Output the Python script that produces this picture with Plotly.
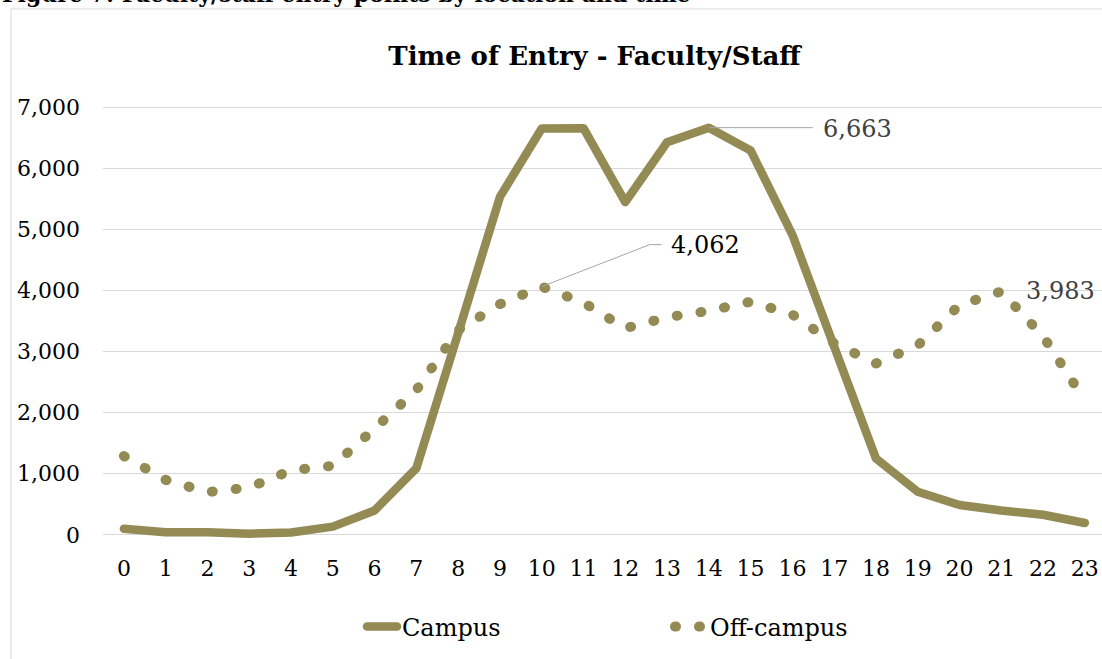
import plotly.graph_objects as go

hours = list(range(24))
campus = [100, 45, 45, 20, 40, 135, 400, 1090, 3300, 5530, 6650, 6655,
          5445, 6425, 6663, 6290, 4910, 3050, 1250, 705, 490, 400, 330, 195]
off_campus = [1290, 900, 700, 775, 1055, 1130, 1740, 2370, 3350, 3775, 4062, 3800,
              3380, 3560, 3665, 3815, 3605, 3135, 2805, 3100, 3760, 3983, 3250, 2200]
ytick_vals = [0, 1000, 2000, 3000, 4000, 5000, 6000, 7000]

olive = "#948A54"
serif = "DejaVu Serif"

fig = go.Figure()
fig.add_trace(go.Scatter(x=hours, y=campus, name="Campus", mode="lines",
                         line=dict(color=olive, width=8.5)))
fig.add_trace(go.Scatter(x=hours, y=off_campus, name="Off-campus", mode="lines",
                         line=dict(color=olive, width=10, dash="1px,23px")))

# data labels with leader lines
fig.add_annotation(x=14, y=campus[14], text="{:,}".format(campus[14]), showarrow=False,
                   xanchor="left", yanchor="middle", xshift=112, yshift=-1,
                   font=dict(family=serif, size=24, color="#404040"))
fig.add_shape(type="path", xref="x", yref="y", xsizemode="pixel", ysizemode="pixel",
              xanchor=14, yanchor=campus[14], path="M 0,0 L 104,0",
              line=dict(color="#A6A6A6", width=1))
fig.add_annotation(x=10, y=off_campus[10], text="{:,}".format(off_campus[10]), showarrow=False,
                   xanchor="left", yanchor="middle", xshift=127, yshift=42,
                   font=dict(family=serif, size=24, color="#000000"))
fig.add_shape(type="path", xref="x", yref="y", xsizemode="pixel", ysizemode="pixel",
              xanchor=10, yanchor=off_campus[10], path="M 0,0 L 108,42 L 120,42",
              line=dict(color="#A6A6A6", width=1))
fig.add_annotation(x=21, y=off_campus[21], text="{:,}".format(off_campus[21]), showarrow=False,
                   xanchor="left", yanchor="middle", xshift=23, yshift=0,
                   font=dict(family=serif, size=24, color="#404040"))

# chart frame and clipped figure caption
fig.add_shape(type="rect", xref="paper", yref="paper", x0=-0.0921, x1=1.1, y0=1.2175, y1=-0.4,
              line=dict(color="#D9D9D9", width=1), layer="below")
fig.add_annotation(xref="paper", yref="paper", x=-103 / 999, y=1.2174, xanchor="left", yanchor="bottom",
                   text="<b>Figure 7: Faculty/staff entry points by location and time</b>", showarrow=False,
                   font=dict(family=serif, size=22, color="#000000"))

fig.update_layout(
    width=1102, height=659,
    margin=dict(l=103, r=0, t=104, b=118),
    paper_bgcolor="white", plot_bgcolor="white",
    title=dict(text="<b>Time of Entry - Faculty/Staff</b>", xref="container", x=594.5 / 1102,
               xanchor="center", yref="container", y=1 - 56 / 659, yanchor="middle",
               font=dict(family=serif, size=26, color="#000000")),
    legend=dict(orientation="h", xref="container", x=362 / 1102, xanchor="left",
                yref="container", y=1 - 627 / 659, yanchor="middle",
                entrywidth=263, entrywidthmode="pixels",
                font=dict(family=serif, size=24, color="#000000"),
                bgcolor="rgba(0,0,0,0)"),
    showlegend=True,
)
fig.update_xaxes(range=[-0.5, 23.41], tickvals=hours, showgrid=False, zeroline=False,
                 showline=False, ticks="", ticklabelstandoff=12,
                 tickfont=dict(family=serif, size=22, color="#000000"))
fig.update_yaxes(range=[-100, 7050], tickvals=ytick_vals, tickformat=",d",
                 showgrid=True, gridcolor="#D9D9D9", gridwidth=1, zeroline=False,
                 showline=False, ticks="", ticklabelstandoff=22,
                 tickfont=dict(family=serif, size=22, color="#000000"))

post = """
var st = document.createElement('style');
st.innerHTML = 'body {margin: 0; overflow: hidden;} ' +
    '.js-plotly-plot .js-line {stroke-linecap: round; stroke-linejoin: round;}';
document.head.appendChild(st);
"""
fig.write_html("out.html", post_script=post, config={"displayModeBar": False})
